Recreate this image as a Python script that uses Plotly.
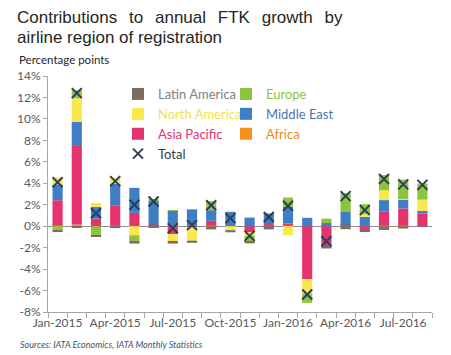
import plotly.graph_objects as go

months = ["Jan-2015", "Feb-2015", "Mar-2015", "Apr-2015", "May-2015", "Jun-2015",
          "Jul-2015", "Aug-2015", "Sep-2015", "Oct-2015", "Nov-2015", "Dec-2015",
          "Jan-2016", "Feb-2016", "Mar-2016", "Apr-2016", "May-2016", "Jun-2016",
          "Jul-2016", "Aug-2016"]

africa = [0.05, 0.15, 0.0, 0.05, 0.0, 0.1, 0.0, 0.0, 0.05, 0.0,
          0.0, 0.0, 0.05, 0.0, 0.0, 0.05, 0.0, 0.05, 0.05, 0.0]
asia_pacific = [2.37, 7.33, 0.71, 1.9, 1.24, 0.05, -0.75, -0.1, 0.45, 0.0,
                -0.55, 0.2, 0.2, -4.94, -1.93, 0.07, -0.37, 1.3, 1.6, 1.18]
middle_east = [1.46, 2.24, 1.09, 2.01, 2.33, 2.25, 1.45, 1.53, 0.99, 1.34,
               0.8, 0.98, 1.55, 0.78, 0.3, 1.2, 0.87, 1.08, 0.84, 0.25]
north_america = [0.65, 2.2, 0.37, 0.56, -0.84, 0.0, -0.71, -1.25, 0.0, -0.37,
                 -0.35, 0.0, -0.84, -1.34, 0.0, 0.0, 0.25, 0.93, 0.05, 1.05]
europe = [-0.37, 0.75, -0.84, 0.0, -0.53, 0.05, 0.05, 0.07, 0.84, 0.0,
          -0.55, 0.0, 0.87, -0.87, 0.4, 1.77, 0.93, 1.4, 1.8, 1.49]
latin_america = [-0.14, -0.15, -0.15, -0.18, -0.25, -0.12, -0.16, -0.2, -0.3, -0.2,
                 -0.15, -0.3, 0.0, 0.0, -0.15, -0.28, -0.16, -0.35, -0.22, -0.05]
total = [4.1, 12.4, 1.2, 4.2, 2.0, 2.3, -0.2, 0.1, 1.95, 0.75,
         -0.9, 0.85, 1.9, -6.37, -1.4, 2.8, 1.5, 4.4, 3.9, 3.85]

y_ticks = [-8, -6, -4, -2, 0, 2, 4, 6, 8, 10, 12, 14]

title_lines = ["Contributions to annual FTK growth by", "airline region of registration"]

x = list(range(len(months)))
FONT = "Lato"
TFONT = "Liberation Sans"

# plot-area geometry (pixels) for placing texts
L, T, B = 48, 76, 312
W, H = 451 - L - 19, B - T


def px(p):
    return (p - L) / W


def py(p):
    return (B - p) / H


# (name, values, bar colour, legend text colour, legend, rank)
series = [
    ("Africa", africa, "#f5921e", "#f08a1c", "legend2", 6),
    ("Asia Pacific", asia_pacific, "#e5336d", "#e5336d", "legend", 5),
    ("Middle East", middle_east, "#3f7ec4", "#4a74b4", "legend2", 4),
    ("North America", north_america, "#f9e84b", "#f2e34a", "legend", 3),
    ("Europe", europe, "#8cc43f", "#8cc43f", "legend2", 2),
    ("Latin America", latin_america, "#7d6d60", "#7f7f7f", "legend", 1),
]

fig = go.Figure()
for name, vals, col, tcol, leg, rank in series:
    fig.add_trace(go.Bar(
        x=x, y=vals, name=f"<span style='color:{tcol}'>{name}</span>",
        marker=dict(color=col, line=dict(width=0)), width=0.53,
        legend=leg, legendrank=rank,
    ))

fig.add_trace(go.Scatter(
    x=x, y=total, mode="markers",
    name="<span style='color:#2d3e58'>Total</span>",
    marker=dict(symbol="x-thin", size=10, line=dict(width=2, color="#2d3e58"), color="#2d3e58"),
    legend="legend", legendrank=7,
))

annotations = [
    dict(text=title_lines[0].replace(" ", " \u2004\u200a"), xref="paper", yref="paper",
         x=px(15), y=py(17), xanchor="left", yanchor="middle", showarrow=False,
         font=dict(family=TFONT, size=17, color="#262626")),
    dict(text=title_lines[1], xref="paper", yref="paper",
         x=px(15), y=py(37.5), xanchor="left", yanchor="middle", showarrow=False,
         font=dict(family=TFONT, size=17, color="#262626")),
    dict(text="Percentage points", xref="paper", yref="paper",
         x=px(17), y=py(60), xanchor="left", yanchor="middle",
         showarrow=False, font=dict(family=FONT, size=11.5, color="#262626")),
    dict(text="<i>Sources: IATA Economics, IATA Monthly Statistics</i>",
         xref="paper", yref="paper",
         x=px(18), y=py(344), xanchor="left", yanchor="middle",
         showarrow=False, font=dict(family=FONT, size=9, color="#44546a")),
]

fig.update_layout(
    width=451, height=355,
    margin=dict(l=L, r=19, t=T, b=355 - B),
    barmode="relative",
    plot_bgcolor="white", paper_bgcolor="white",
    font=dict(family=FONT, size=12, color="#595959"),
    showlegend=True,
    legend=dict(
        x=px(118), y=py(79), xanchor="left", yanchor="top",
        orientation="v", bgcolor="rgba(0,0,0,0)",
        font=dict(family=FONT, size=13), traceorder="normal",
    ),
    legend2=dict(
        x=px(226), y=py(79), xanchor="left", yanchor="top",
        orientation="v", bgcolor="rgba(0,0,0,0)",
        font=dict(family=FONT, size=13), traceorder="normal",
    ),
    xaxis=dict(
        range=[-0.5, len(months) - 0.5],
        tickvals=x[::3], ticktext=months[::3],
        ticks="", showgrid=False, zeroline=False,
        showline=True, linecolor="#a6a6a6", linewidth=1,
        tickfont=dict(family=FONT, size=12, color="#595959"),
        minor=dict(tick0=-0.5, dtick=1, ticks="outside", ticklen=5,
                   tickcolor="#a6a6a6", showgrid=False),
    ),
    yaxis=dict(
        range=[-8, 14], tickvals=y_ticks,
        ticktext=[f"{v}%" for v in y_ticks],
        showgrid=False, zeroline=True, zerolinecolor="#8c8c8c", zerolinewidth=1,
        showline=True, linecolor="#a6a6a6", linewidth=1,
        ticks="outside", ticklen=4, tickcolor="#a6a6a6",
        tickfont=dict(family=FONT, size=12, color="#595959"),
    ),
    annotations=annotations,
)

fig.write_html("out.html", config={"displayModeBar": False},
               post_script="document.body.style.margin='0';")
